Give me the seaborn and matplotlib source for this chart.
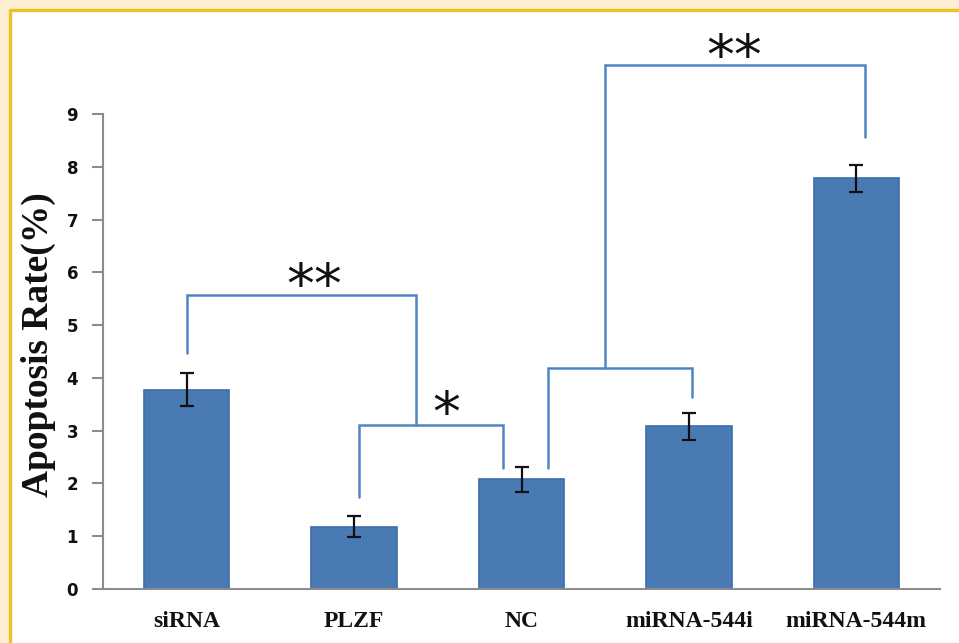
import matplotlib
matplotlib.use('Agg')
import matplotlib.pyplot as plt
import matplotlib.patches as mpatches
from matplotlib.lines import Line2D
import pandas as pd
import seaborn as sns
import numpy as np

groups = ['siRNA', 'PLZF', 'NC', 'miRNA-544i', 'miRNA-544m']
rates = [3.78, 1.18, 2.08, 3.08, 7.78]
errors = [0.31, 0.2, 0.24, 0.25, 0.25]

# significance brackets: (x left, x right, top y, left leg bottom, right leg bottom)
brackets = [
    (1.03, 1.89, 3.11, 1.74, 2.29),
    (2.16, 3.02, 4.19, 2.29, 3.64),
    (0.0, 1.37, 5.57, 4.47, 3.11),
    (2.50, 4.05, 9.93, 4.19, 8.56),
]
stars = [('**', 0.76, 5.19), ('*', 1.55, 2.76), ('**', 3.27, 9.54)]

bar_color = '#4A7AB3'
line_color = '#4D86C2'

if __name__ == '__main__':
    sns.set_theme(style='white')
    df = pd.DataFrame({'group': groups, 'rate': rates})

    fig = plt.figure(figsize=(9.59, 6.43), dpi=100)
    fig.patch.set_facecolor('#FDEFD4')
    x0, y0 = 9.5 / 959, 1 - 10 / 643
    fig.add_artist(mpatches.Rectangle((x0, 0), 1 - x0, y0, transform=fig.transFigure,
                                      facecolor='white', edgecolor='none', zorder=-5))
    fig.add_artist(Line2D([x0, x0, 1], [0, y0, y0], transform=fig.transFigure,
                          color='#F3C11E', lw=2.4, zorder=-4, solid_joinstyle='round'))

    ax = fig.add_axes([103 / 959, 1 - 589 / 643, 837 / 959, 475 / 643])
    ax.set_zorder(5)
    ax.patch.set_alpha(0)
    sns.barplot(data=df, x='group', y='rate', color=bar_color, width=0.51,
                saturation=1, edgecolor='#3C6EAA', linewidth=1.2, ax=ax)
    ax.errorbar(np.arange(len(groups)), rates, yerr=errors, fmt='none',
                ecolor='#111111', elinewidth=1.6, capsize=5, capthick=1.6)

    for xl, xr, top, bl, br in brackets:
        ax.plot([xl, xl, xr, xr], [bl, top, top, br], color=line_color,
                lw=1.8, clip_on=False, solid_joinstyle='miter')
    for s, x, y in stars:
        ax.text(x, y, s, ha='center', va='bottom', fontsize=40,
                color='#111111', clip_on=False)

    ax.set_xlim(-0.5, 4.5)
    ax.set_ylim(0, 9)
    ax.set_yticks(range(10))
    sns.despine(ax=ax)
    for sp in ['left', 'bottom']:
        ax.spines[sp].set_color('#8C8C8C')
        ax.spines[sp].set_linewidth(1.5)
    ax.tick_params(axis='y', left=True, length=8, width=1.5, color='#8C8C8C',
                   pad=10, labelsize=12, labelcolor='#111111')
    ax.tick_params(axis='x', bottom=False, pad=10, labelcolor='#111111')
    for lab in ax.get_yticklabels():
        lab.set_fontweight('bold')
        lab.set_fontfamily('DejaVu Sans')
    for lab in ax.get_xticklabels():
        lab.set_fontweight('bold')
        lab.set_fontfamily('Liberation Serif')
        lab.set_fontsize(17)
    ax.set_xlabel('')
    ax.set_ylabel('Apoptosis Rate(%)', fontsize=27, fontweight='bold',
                  fontfamily='Liberation Serif', color='#111111')
    ax.yaxis.set_label_coords(-0.056, 0.514)

    fig.savefig('out.png', dpi=100, facecolor=fig.get_facecolor())
